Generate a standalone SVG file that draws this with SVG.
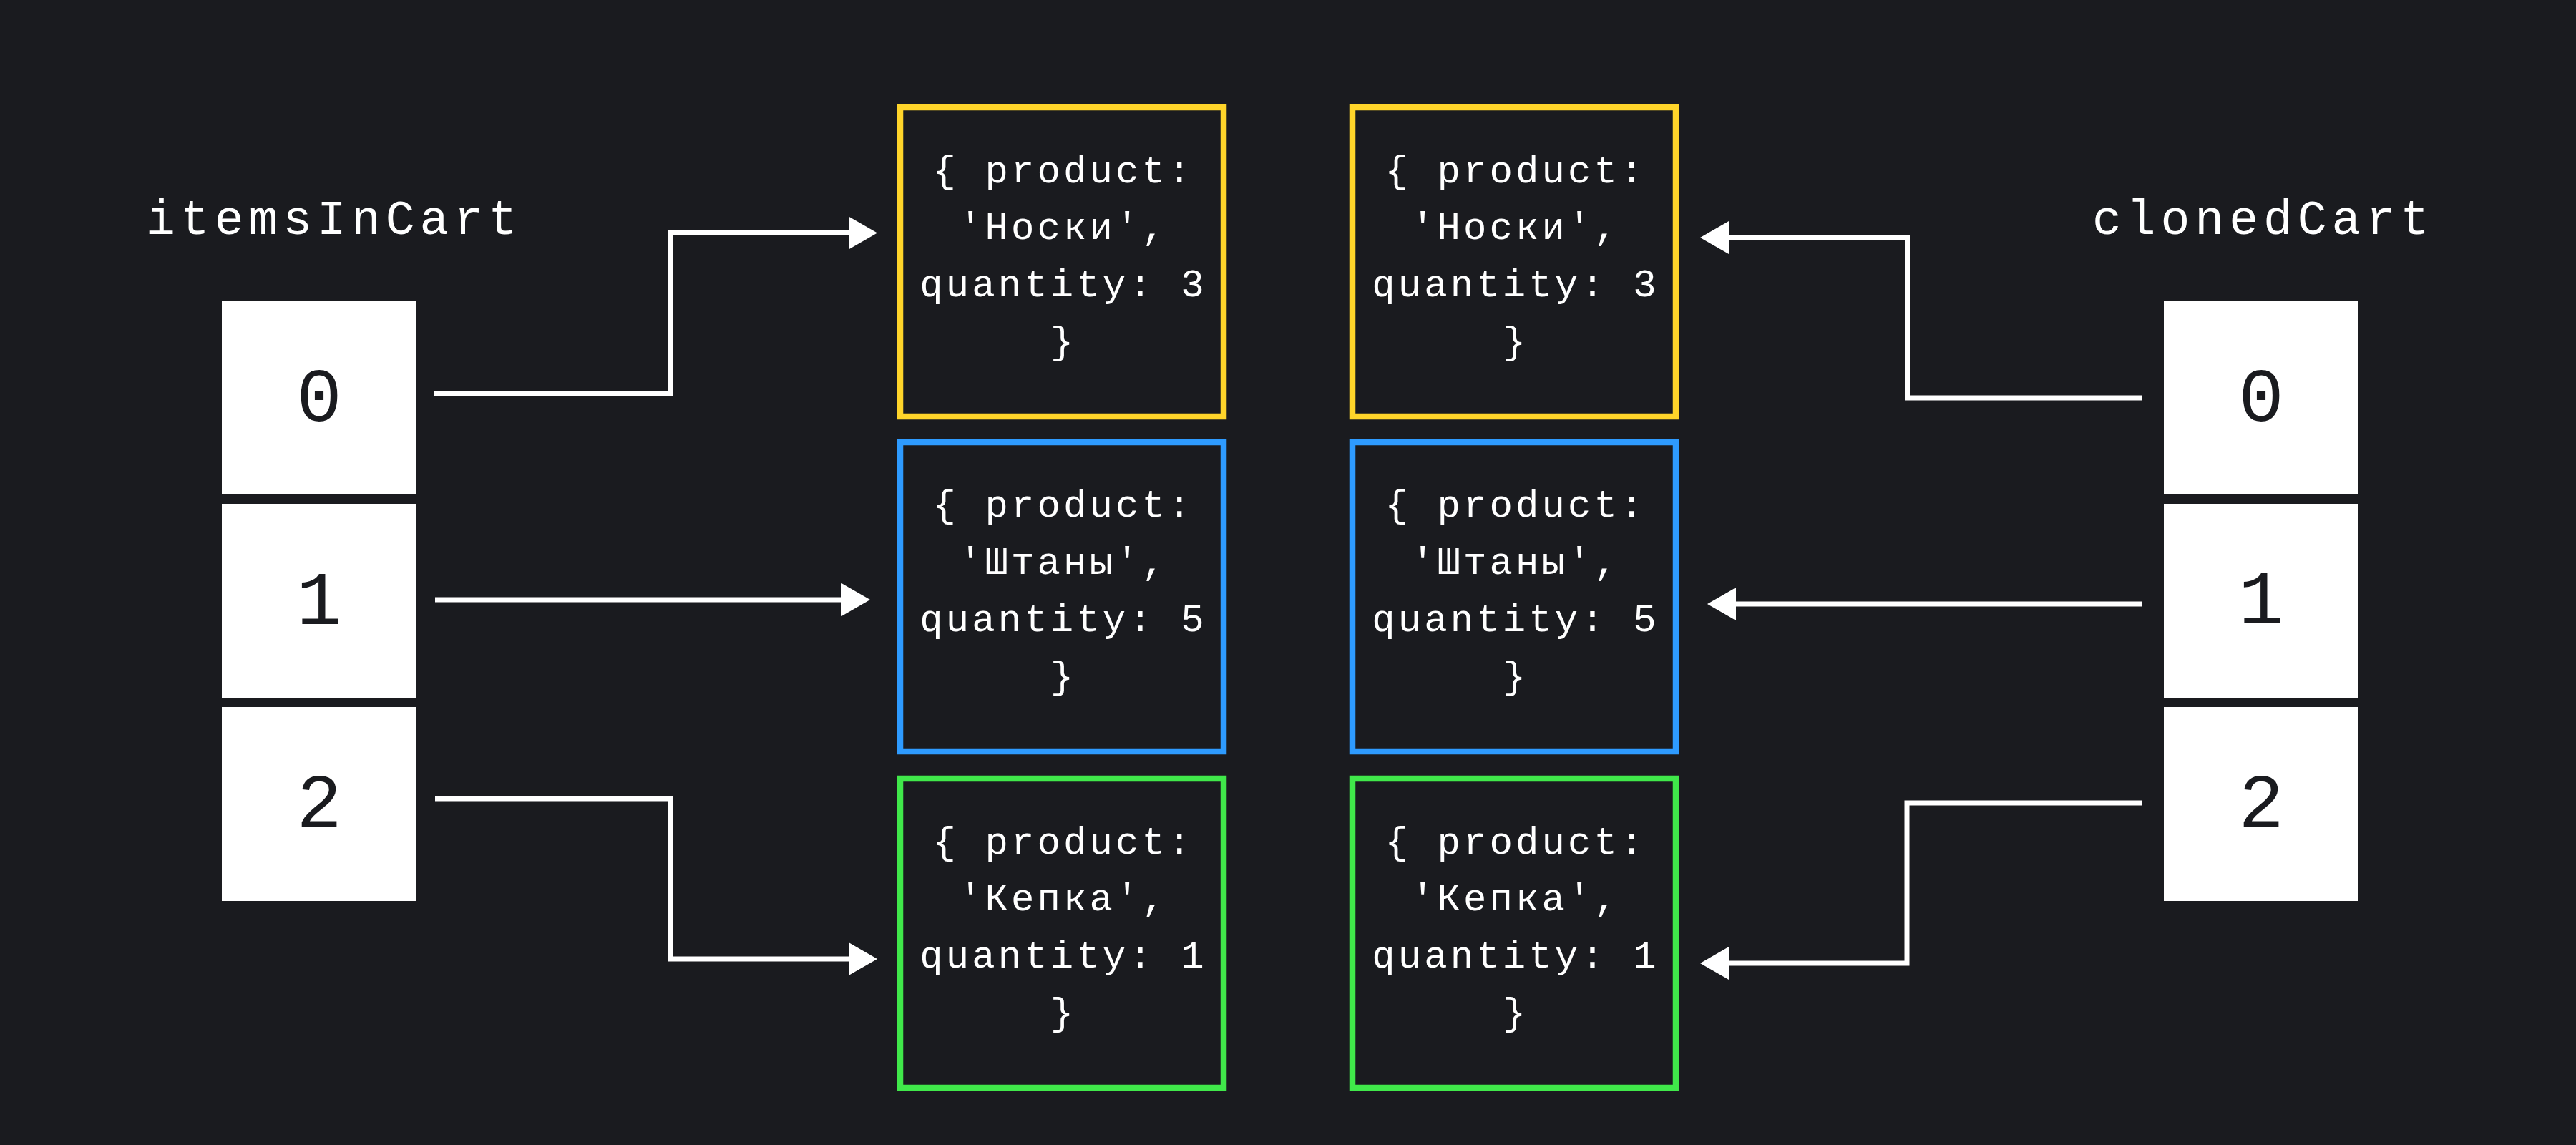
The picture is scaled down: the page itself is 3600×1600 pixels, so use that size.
<svg xmlns="http://www.w3.org/2000/svg" width="3600" height="1600" viewBox="0 0 3600 1600">
  <style>
    .bg { fill: #1A1B1F; }
    .cell { fill: #FFFFFF; }
    .digit { font-family: "Liberation Mono", "DejaVu Sans Mono", monospace; font-size: 106px; fill: #1A1B1F; text-anchor: middle; }
    .label { font-family: "Liberation Mono", "DejaVu Sans Mono", monospace; font-size: 68px; letter-spacing: 7px; fill: #FFFFFF; text-anchor: middle; }
    .obj { fill: #1A1B1F; stroke-width: 8.5; }
    .obj-text { font-family: "Liberation Mono", "DejaVu Sans Mono", monospace; font-size: 54px; letter-spacing: 4.1px; fill: #FFFFFF; text-anchor: middle; }
    .yellow { stroke: #FFD52A; }
    .blue { stroke: #2E9BFF; }
    .green { stroke: #40E84A; }
    .conn { fill: none; stroke: #FFFFFF; stroke-width: 7; marker-end: url(#arrow); }
  </style>
  <defs>
    <marker id="arrow" markerUnits="userSpaceOnUse" markerWidth="42" markerHeight="48" refX="0" refY="23" orient="auto">
      <path d="M0,0 L40,23 L0,46 Z" fill="#FFFFFF"/>
    </marker>
  </defs>
  <rect class="bg" x="0" y="0" width="3600" height="1600"/>

  <g id="label-itemsInCart">
    <text class="label" x="467" y="327">itemsInCart</text>
  </g>
  <g id="label-clonedCart">
    <text class="label" x="3163" y="327">clonedCart</text>
  </g>

  <g id="itemsInCart-0">
    <rect class="cell" x="310" y="420" width="272" height="271"/>
    <text class="digit" x="446" y="588">0</text>
  </g>
  <g id="itemsInCart-1">
    <rect class="cell" x="310" y="704" width="272" height="271"/>
    <text class="digit" x="446" y="872">1</text>
  </g>
  <g id="itemsInCart-2">
    <rect class="cell" x="310" y="988" width="272" height="271"/>
    <text class="digit" x="446" y="1155">2</text>
  </g>

  <g id="clonedCart-0">
    <rect class="cell" x="3024" y="420" width="272" height="271"/>
    <text class="digit" x="3160" y="588">0</text>
  </g>
  <g id="clonedCart-1">
    <rect class="cell" x="3024" y="704" width="272" height="271"/>
    <text class="digit" x="3160" y="871">1</text>
  </g>
  <g id="clonedCart-2">
    <rect class="cell" x="3024" y="988" width="272" height="271"/>
    <text class="digit" x="3160" y="1155">2</text>
  </g>

  <g id="obj-socks-original">
    <rect class="obj yellow" x="1258" y="150" width="452" height="432"/>
    <text class="obj-text" x="1486" y="255">{ product:</text>
    <text class="obj-text" x="1486" y="334">'Носки',</text>
    <text class="obj-text" x="1486" y="414">quantity: 3</text>
    <text class="obj-text" x="1486" y="494">}</text>
  </g>
  <g id="obj-pants-original">
    <rect class="obj blue" x="1258" y="618" width="452" height="432"/>
    <text class="obj-text" x="1486" y="722">{ product:</text>
    <text class="obj-text" x="1486" y="802">'Штаны',</text>
    <text class="obj-text" x="1486" y="882">quantity: 5</text>
    <text class="obj-text" x="1486" y="962">}</text>
  </g>
  <g id="obj-cap-original">
    <rect class="obj green" x="1258" y="1088" width="452" height="432"/>
    <text class="obj-text" x="1486" y="1193">{ product:</text>
    <text class="obj-text" x="1486" y="1272">'Кепка',</text>
    <text class="obj-text" x="1486" y="1352">quantity: 1</text>
    <text class="obj-text" x="1486" y="1432">}</text>
  </g>

  <g id="obj-socks-clone">
    <rect class="obj yellow" x="1890" y="150" width="452" height="432"/>
    <text class="obj-text" x="2118" y="255">{ product:</text>
    <text class="obj-text" x="2118" y="334">'Носки',</text>
    <text class="obj-text" x="2118" y="414">quantity: 3</text>
    <text class="obj-text" x="2118" y="494">}</text>
  </g>
  <g id="obj-pants-clone">
    <rect class="obj blue" x="1890" y="618" width="452" height="432"/>
    <text class="obj-text" x="2118" y="722">{ product:</text>
    <text class="obj-text" x="2118" y="802">'Штаны',</text>
    <text class="obj-text" x="2118" y="882">quantity: 5</text>
    <text class="obj-text" x="2118" y="962">}</text>
  </g>
  <g id="obj-cap-clone">
    <rect class="obj green" x="1890" y="1088" width="452" height="432"/>
    <text class="obj-text" x="2118" y="1193">{ product:</text>
    <text class="obj-text" x="2118" y="1272">'Кепка',</text>
    <text class="obj-text" x="2118" y="1352">quantity: 1</text>
    <text class="obj-text" x="2118" y="1432">}</text>
  </g>

  <g id="connectors">
    <path class="conn" d="M607,549.5 H937 V325.5 H1186"/>
    <path class="conn" d="M608,838 H1176"/>
    <path class="conn" d="M608,1116 H937 V1340 H1186"/>
    <path class="conn" d="M2994,556 H2665.5 V332 H2416"/>
    <path class="conn" d="M2994,844 H2426"/>
    <path class="conn" d="M2994,1122 H2665 V1346 H2416"/>
  </g>
</svg>
